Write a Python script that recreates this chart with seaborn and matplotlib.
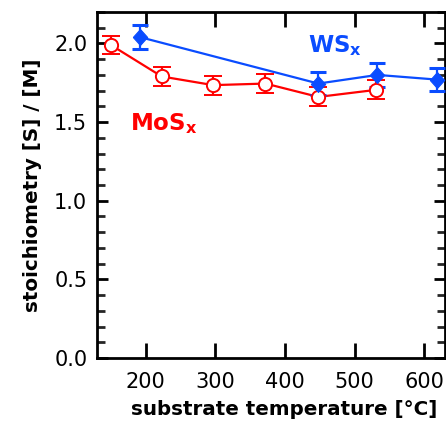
import matplotlib
matplotlib.use("Agg")
import matplotlib.pyplot as plt
import seaborn as sns
import pandas as pd
from matplotlib.ticker import MultipleLocator

mos_temp = [150, 223, 297, 372, 448, 531]
mos_val = [1.99, 1.79, 1.735, 1.745, 1.66, 1.705]
mos_err = [0.06, 0.06, 0.06, 0.06, 0.06, 0.06]

ws_temp = [192, 448, 533, 619]
ws_val = [2.04, 1.745, 1.80, 1.77]
ws_err = [0.075, 0.075, 0.075, 0.075]

sns.set_theme(style="ticks")
plt.rcParams['font.family'] = ['DejaVu Sans']
plt.rcParams['mathtext.fontset'] = 'dejavusans'

red = "#ff0000"
blue = "#0a4cff"

W, H = 446, 428
fig = plt.figure(figsize=(W/100, H/100), dpi=100)
ax = fig.add_axes([97/W, (H-358)/H, 348/W, 346/H])

df_mo = pd.DataFrame({"T": mos_temp, "v": mos_val})
df_ws = pd.DataFrame({"T": ws_temp, "v": ws_val})

sns.lineplot(data=df_mo, x="T", y="v", ax=ax, color=red, lw=1.6, zorder=2)
sns.lineplot(data=df_ws, x="T", y="v", ax=ax, color=blue, lw=1.6, zorder=2)

diamond = [(-0.45, 0), (0, 0.5), (0.45, 0), (0, -0.5), (-0.45, 0)]
ax.errorbar(mos_temp, mos_val, yerr=mos_err, fmt='o', color=red, mfc='white',
            mec=red, ms=9.5, mew=1.4, elinewidth=1.6, capsize=6.5, capthick=2.2, zorder=3)
ax.errorbar(ws_temp, ws_val, yerr=ws_err, fmt='none', ecolor=blue,
            elinewidth=1.6, capsize=5.5, capthick=2.2, zorder=3)
ax.plot(ws_temp, ws_val, linestyle='none', marker=diamond, ms=11.5, color=blue,
        mec=blue, mew=0.8, zorder=4)

ax.set_xlim(130, 630)
ax.set_ylim(0, 2.2)
ax.xaxis.set_major_locator(MultipleLocator(100))
ax.yaxis.set_major_locator(MultipleLocator(0.5))
ax.yaxis.set_minor_locator(MultipleLocator(0.1))

for s in ax.spines.values():
    s.set_linewidth(2)
    s.set_color("black")

ax.tick_params(axis='x', which='major', direction='in', length=11, width=2,
               top=True, bottom=True, labelsize=15, pad=10, colors='black')
ax.tick_params(axis='y', which='major', direction='in', length=8, width=2,
               left=True, right=True, labelsize=15, pad=7, colors='black')
ax.tick_params(axis='y', which='minor', direction='in', length=6, width=2,
               left=True, right=True)
ax.tick_params(axis='x', which='minor', bottom=False, top=False)
for lab in ax.get_xticklabels() + ax.get_yticklabels():
    lab.set_color("black")

ax.set_xlabel("substrate temperature [°C]", fontsize=14.3, fontweight='bold',
              labelpad=6, color='black', x=0.537)
ax.set_ylabel("stoichiometry [S] / [M]", fontsize=14.3, fontweight='bold',
              labelpad=9, color='black')

fig.text(308/W, 1 - 52/H, r"WS$_\mathbf{x}$", fontsize=16.5, fontweight='bold',
         color=blue, va='baseline', ha='left')
fig.text(130/W, 1 - 130/H, r"MoS$_\mathbf{x}$", fontsize=16.5, fontweight='bold',
         color=red, va='baseline', ha='left')

fig.savefig("out.png", dpi=100)
